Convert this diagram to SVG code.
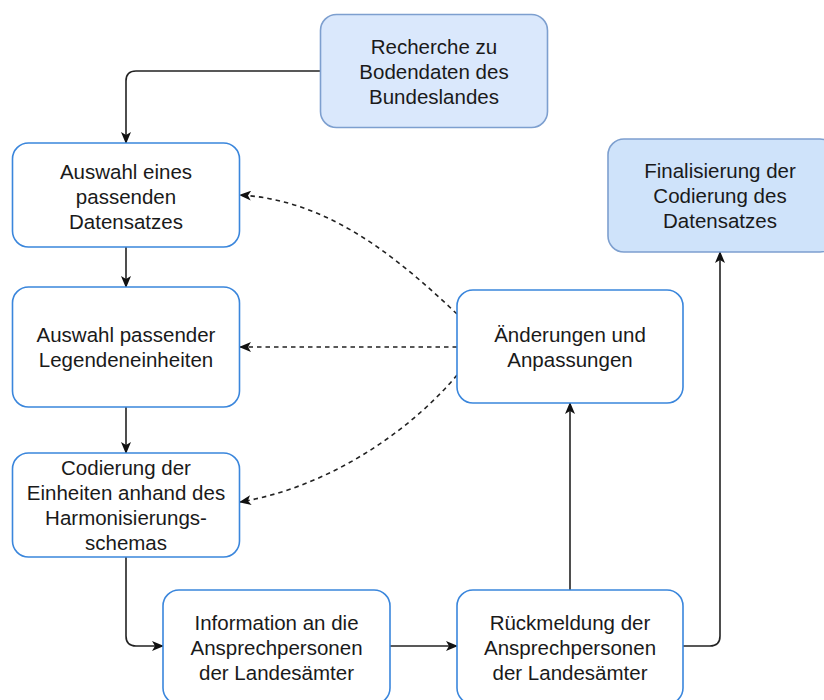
<svg xmlns="http://www.w3.org/2000/svg" width="824" height="700" viewBox="0 0 824 700">
<defs>
<marker id="arr" viewBox="0 0 12 10" refX="11" refY="5" markerWidth="12" markerHeight="10" markerUnits="userSpaceOnUse" orient="auto">
<path d="M0,0 L12,5 L0,10 L3,5 Z" fill="#111"/>
</marker>
<style>
.n rect{fill:#fff;stroke:#3a86dc;stroke-width:1.6}
.n.f1 rect{fill:#dae8fc;stroke:#7d9fcf}
.n.f2 rect{fill:#cfe3fa;stroke:#7d9fcf}
.n text{font-family:"Liberation Sans",Arial,sans-serif;font-size:20.5px;fill:#1a1a1a;text-anchor:middle}
.c path{fill:none;stroke:#222;stroke-width:1.6}
.c path.d{stroke-dasharray:4.5 4}
</style>
</defs>
<rect width="824" height="700" fill="#fff"/>
<g class="c">
<path d="M320,71 H136 Q126,71 126,81 V143" marker-end="url(#arr)"/>
<path d="M126,247 V287" marker-end="url(#arr)"/>
<path d="M126,407 V453" marker-end="url(#arr)"/>
<path d="M126,557 V636 Q126,646 136,646 H163" marker-end="url(#arr)"/>
<path d="M390,646 H457" marker-end="url(#arr)"/>
<path d="M570,590 V403" marker-end="url(#arr)"/>
<path d="M683,646 H710 Q720,646 720,636 V252" marker-end="url(#arr)"/>
<path class="d" d="M457,347 H240" marker-end="url(#arr)"/>
<path class="d" d="M457,314 C400,260 330,200 240,195" marker-end="url(#arr)"/>
<path class="d" d="M457,375 C420,420 340,485 240,502" marker-end="url(#arr)"/>
</g>
<g id="recherche" class="n f1">
<rect x="320.5" y="14.5" width="227" height="113" rx="16"/>
<text x="434" y="54">Recherche zu</text>
<text x="434" y="79">Bodendaten des</text>
<text x="434" y="104">Bundeslandes</text>
</g>
<g id="auswahl-datensatz" class="n">
<rect x="12.5" y="143" width="227" height="104" rx="16"/>
<text x="126" y="179">Auswahl eines</text>
<text x="126" y="204">passenden</text>
<text x="126" y="229">Datensatzes</text>
</g>
<g id="auswahl-legende" class="n">
<rect x="12.5" y="287" width="227" height="120" rx="16"/>
<text x="126" y="342">Auswahl passender</text>
<text x="126" y="367">Legendeneinheiten</text>
</g>
<g id="codierung" class="n">
<rect x="12.5" y="453" width="227" height="104" rx="16"/>
<text x="126" y="475">Codierung der</text>
<text x="126" y="500">Einheiten anhand des</text>
<text x="126" y="525">Harmonisierungs-</text>
<text x="126" y="550">schemas</text>
</g>
<g id="information" class="n">
<rect x="163" y="590" width="227" height="114" rx="16"/>
<text x="276.5" y="630">Information an die</text>
<text x="276.5" y="655">Ansprechpersonen</text>
<text x="276.5" y="680">der Landesämter</text>
</g>
<g id="rueckmeldung" class="n">
<rect x="457" y="590" width="226" height="114" rx="16"/>
<text x="570" y="630">Rückmeldung der</text>
<text x="570" y="655">Ansprechpersonen</text>
<text x="570" y="680">der Landesämter</text>
</g>
<g id="aenderungen" class="n">
<rect x="457" y="290" width="226" height="113" rx="16"/>
<text x="570" y="342">Änderungen und</text>
<text x="570" y="367">Anpassungen</text>
</g>
<g id="finalisierung" class="n f2">
<rect x="608" y="139" width="228" height="113" rx="16"/>
<text x="720" y="178">Finalisierung der</text>
<text x="720" y="203">Codierung des</text>
<text x="720" y="228">Datensatzes</text>
</g>
</svg>
